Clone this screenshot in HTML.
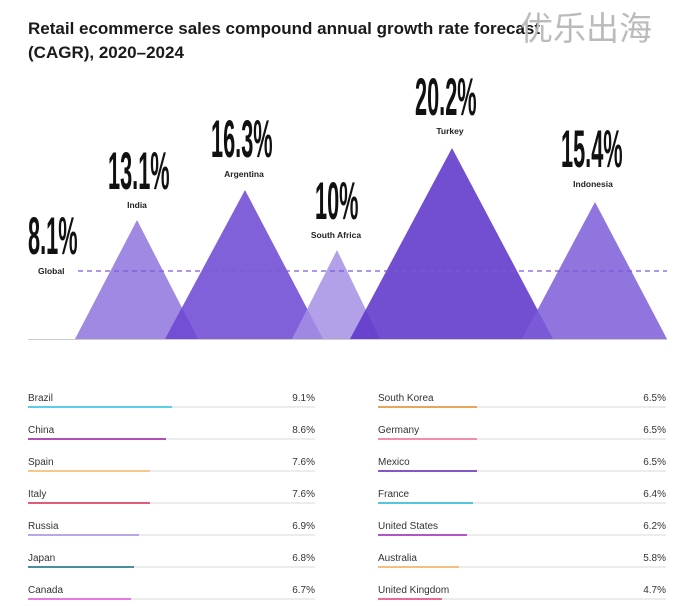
<!DOCTYPE html>
<html><head><meta charset="utf-8"><style>
body{margin:0;background:#fff;width:693px;height:606px;overflow:hidden}
svg{display:block}
.t{font-family:"Liberation Sans",sans-serif;font-weight:bold;font-size:17px;fill:#1a1a1a}
.big{font-family:"Liberation Sans Narrow","Liberation Sans",sans-serif;font-weight:bold;font-size:53px;fill:#111}
.sm{font-family:"Liberation Sans",sans-serif;font-size:8.5px;fill:#222;font-weight:bold}
.r{font-family:"Liberation Sans",sans-serif;font-size:10px;fill:#333}
</style></head><body>
<svg width="693" height="606" viewBox="0 0 693 606">
<text class="t" x="28" y="34">Retail ecommerce sales compound annual growth rate forecast</text>
<text class="t" x="28" y="58">(CAGR), 2020–2024</text>
<text x="520" y="40" font-family="Noto Sans CJK SC,sans-serif" font-size="33" fill="#bbb">优乐出海</text>

<polygon points="75,339 137,220 198,339" fill="#8f74dd" fill-opacity="0.85"/>
<polygon points="165,339 245,190 323,339" fill="#6a45d2" fill-opacity="0.85"/>
<polygon points="292,339 337,250 380,339" fill="#a58fe4" fill-opacity="0.85"/>
<polygon points="350,339 452,148 553,339" fill="#5e36c9" fill-opacity="0.88"/>
<polygon points="522,339 595,202 667,339" fill="#7d5dd8" fill-opacity="0.85"/>
<line x1="78" y1="271" x2="667" y2="271" stroke="#7a5ad8" stroke-width="1.2" stroke-dasharray="5,4"/>
<line x1="28" y1="339.5" x2="667" y2="339.5" stroke="#ccc" stroke-width="1"/>

<g transform="translate(28,254) scale(0.41,1)"><text class="big" x="0" y="0">8.1%</text></g>
<text class="sm" x="38" y="274">Global</text>
<g transform="translate(108,189) scale(0.41,1)"><text class="big" x="0" y="0">13.1%</text></g>
<text class="sm" x="137" y="208" text-anchor="middle">India</text>
<g transform="translate(211,157) scale(0.41,1)"><text class="big" x="0" y="0">16.3%</text></g>
<text class="sm" x="244" y="177" text-anchor="middle">Argentina</text>
<g transform="translate(315,219) scale(0.41,1)"><text class="big" x="0" y="0">10%</text></g>
<text class="sm" x="336" y="238" text-anchor="middle">South Africa</text>
<g transform="translate(415,115) scale(0.41,1)"><text class="big" x="0" y="0">20.2%</text></g>
<text class="sm" x="450" y="134" text-anchor="middle">Turkey</text>
<g transform="translate(561,167) scale(0.41,1)"><text class="big" x="0" y="0">15.4%</text></g>
<text class="sm" x="593" y="187" text-anchor="middle">Indonesia</text>

<text class="r" x="28" y="401">Brazil</text><text class="r" x="315" y="401" text-anchor="end">9.1%</text>
<text class="r" x="28" y="433">China</text><text class="r" x="315" y="433" text-anchor="end">8.6%</text>
<text class="r" x="28" y="465">Spain</text><text class="r" x="315" y="465" text-anchor="end">7.6%</text>
<text class="r" x="28" y="497">Italy</text><text class="r" x="315" y="497" text-anchor="end">7.6%</text>
<text class="r" x="28" y="529">Russia</text><text class="r" x="315" y="529" text-anchor="end">6.9%</text>
<text class="r" x="28" y="561">Japan</text><text class="r" x="315" y="561" text-anchor="end">6.8%</text>
<text class="r" x="28" y="593">Canada</text><text class="r" x="315" y="593" text-anchor="end">6.7%</text>
<g stroke="#e6e6e6" stroke-width="1.5">
<line x1="28" y1="407" x2="315" y2="407"/><line x1="28" y1="439" x2="315" y2="439"/><line x1="28" y1="471" x2="315" y2="471"/><line x1="28" y1="503" x2="315" y2="503"/><line x1="28" y1="535" x2="315" y2="535"/><line x1="28" y1="567" x2="315" y2="567"/><line x1="28" y1="599" x2="315" y2="599"/>
<line x1="378" y1="407" x2="666" y2="407"/><line x1="378" y1="439" x2="666" y2="439"/><line x1="378" y1="471" x2="666" y2="471"/><line x1="378" y1="503" x2="666" y2="503"/><line x1="378" y1="535" x2="666" y2="535"/><line x1="378" y1="567" x2="666" y2="567"/><line x1="378" y1="599" x2="666" y2="599"/>
</g>
<g stroke-width="2">
<line x1="28" y1="407" x2="172" y2="407" stroke="#5ccfe6"/>
<line x1="28" y1="439" x2="166" y2="439" stroke="#b04fb8"/>
<line x1="28" y1="471" x2="150" y2="471" stroke="#f2c98a"/>
<line x1="28" y1="503" x2="150" y2="503" stroke="#e05a7a"/>
<line x1="28" y1="535" x2="139" y2="535" stroke="#b9a6e6"/>
<line x1="28" y1="567" x2="134" y2="567" stroke="#4a8d9c"/>
<line x1="28" y1="599" x2="131" y2="599" stroke="#e77ae0"/>
<line x1="378" y1="407" x2="477" y2="407" stroke="#e8a55c"/>
<line x1="378" y1="439" x2="477" y2="439" stroke="#f28db0"/>
<line x1="378" y1="471" x2="477" y2="471" stroke="#8457c8"/>
<line x1="378" y1="503" x2="473" y2="503" stroke="#55c6dc"/>
<line x1="378" y1="535" x2="467" y2="535" stroke="#b156c6"/>
<line x1="378" y1="567" x2="459" y2="567" stroke="#f2c080"/>
<line x1="378" y1="599" x2="442" y2="599" stroke="#ec6a98"/>
</g>
<text class="r" x="378" y="401">South Korea</text><text class="r" x="666" y="401" text-anchor="end">6.5%</text>
<text class="r" x="378" y="433">Germany</text><text class="r" x="666" y="433" text-anchor="end">6.5%</text>
<text class="r" x="378" y="465">Mexico</text><text class="r" x="666" y="465" text-anchor="end">6.5%</text>
<text class="r" x="378" y="497">France</text><text class="r" x="666" y="497" text-anchor="end">6.4%</text>
<text class="r" x="378" y="529">United States</text><text class="r" x="666" y="529" text-anchor="end">6.2%</text>
<text class="r" x="378" y="561">Australia</text><text class="r" x="666" y="561" text-anchor="end">5.8%</text>
<text class="r" x="378" y="593">United Kingdom</text><text class="r" x="666" y="593" text-anchor="end">4.7%</text>
</svg>
</body></html>
